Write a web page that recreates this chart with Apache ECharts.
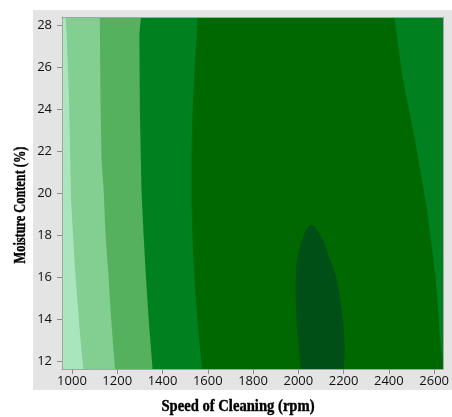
<!DOCTYPE html>
<html><head><meta charset="utf-8">
<script src="https://cdn.jsdelivr.net/npm/echarts@6/dist/echarts.min.js"></script>
<style>html,body{margin:0;padding:0;background:#fff}#c{width:452px;height:417px}</style>
</head><body><div id="c"></div>
<script>
// ---- data ----
const speedRange = [956, 2640];          // Speed of Cleaning (rpm)
const moistureRange = [11.65, 28.41];    // Moisture Content (%)
const speedTicks = [1000, 1200, 1400, 1600, 1800, 2000, 2200, 2400, 2600];
const moistureTicks = [12, 14, 16, 18, 20, 22, 24, 26, 28];

// contour boundaries, each listed from top (high moisture) to bottom
const contour1 = [[972, 28.41], [976, 27.8], [987, 24.5], [996, 19.7], [1013, 16.5], [1035, 13.4], [1050, 11.65]];
const contour2 = [[1123, 28.41], [1126, 24.5], [1131, 21.5], [1140, 20.2], [1148, 18.1], [1162, 16.0], [1172, 14.2], [1190, 11.65]];
const contour3 = [[1305, 28.41], [1298, 27.6], [1300, 24.0], [1302, 22.9], [1307, 20.2], [1316, 18.1], [1327, 16.0], [1339, 14.0], [1356, 11.65]];
const contour4 = [[1556, 28.41], [1545, 26.5], [1535, 24.5], [1528, 22.0], [1528, 19.5], [1536, 17.0], [1547, 14.9], [1562, 13.0], [1575, 11.65]];
const contourRight = [[2424, 28.41], [2460, 25.56], [2518, 22.41], [2569, 19.22], [2606, 16.03], [2628, 12.9], [2640, 11.85]];
const contourInner = [[2058, 18.51], [2072, 18.45], [2087, 18.2], [2102, 17.9], [2117, 17.6], [2135, 17.0], [2150, 16.6], [2167, 16.05],
  [2180, 15.3], [2192, 14.46], [2200, 13.6], [2204, 12.89], [2204, 12.2], [2201, 11.65],
  [2011, 11.65], [2000, 12.89], [1993, 13.8], [1989, 14.8], [1988, 15.6], [1991, 16.6], [2000, 17.2], [2014, 17.7], [2030, 18.2], [2045, 18.45]];

const levelColors = ['#a9e5bd', '#83ce91', '#55b15d', '#00801f', '#006800', '#004f17'];

// ---- build layers (painter's order) ----
const layers = [
  { kind: 'full', pts: [], color: levelColors[4] },
  { kind: 'left', pts: contour4, color: levelColors[3] },
  { kind: 'left', pts: contour3, color: levelColors[2] },
  { kind: 'left', pts: contour2, color: levelColors[1] },
  { kind: 'left', pts: contour1, color: levelColors[0] },
  { kind: 'right', pts: contourRight, color: levelColors[3] },
  { kind: 'closed', pts: contourInner, color: levelColors[5] }
];

function renderItem(params, api) {
  const L = layers[params.dataIndex];
  const x0 = speedRange[0], x1 = speedRange[1], y0 = moistureRange[0], y1 = moistureRange[1];
  let pts;
  if (L.kind === 'full') pts = [[x0, y1], [x1, y1], [x1, y0], [x0, y0]];
  else if (L.kind === 'left') pts = [[x0, y1]].concat(L.pts, [[x0, y0]]);
  else if (L.kind === 'right') pts = L.pts.concat([[x1, y1]]);
  else pts = L.pts;
  return {
    type: 'polygon',
    shape: { points: pts.map(p => api.coord(p)) },
    style: { fill: L.color, stroke: null }
  };
}

const tickFont = { color: '#111111', fontSize: 13, fontFamily: 'Open Sans, sans-serif', formatter: v => String(v) };
const lineStyle = { color: '#a4a4a4', width: 1 };

const chart = echarts.init(document.getElementById('c'), null, { renderer: 'canvas' });
chart.setOption({
  animation: false,
  backgroundColor: '#ffffff',
  grid: { left: 62, right: 6, top: 17, bottom: 48, containLabel: false },
  graphic: [
    { type: 'rect', z: -10, silent: true, shape: { x: 33, y: 10, width: 419, height: 380 }, style: { fill: '#e4e4e4' } },
    { type: 'text', z: 100, x: 238, y: 407, scaleX: 0.86,
      style: { text: 'Speed of Cleaning (rpm)', font: 'bold 17px "Liberation Serif", serif', fill: '#000', stroke: '#000', lineWidth: 0.4, align: 'center', verticalAlign: 'middle' } },
    { type: 'text', z: 100, x: 21, y: 205, rotation: Math.PI / 2, scaleX: 0.77,
      style: { text: 'Moisture Content (%)', font: 'bold 16px "Liberation Serif", serif', fill: '#000', stroke: '#000', lineWidth: 0.4, align: 'center', verticalAlign: 'middle' } }
  ],
  xAxis: [
    { type: 'value', position: 'bottom', min: speedRange[0], max: speedRange[1], z: 10,
      axisLine: { show: true, lineStyle: lineStyle },
      axisTick: { show: true, length: 5, customValues: speedTicks, lineStyle: { color: '#8c8c8c' } },
      axisLabel: { show: true, margin: 6, customValues: speedTicks, ...tickFont },
      splitLine: { show: false } },
    { type: 'value', position: 'top', min: speedRange[0], max: speedRange[1], z: 10,
      axisLine: { show: true, lineStyle: lineStyle }, axisTick: { show: false }, axisLabel: { show: false }, splitLine: { show: false } }
  ],
  yAxis: [
    { type: 'value', position: 'left', min: moistureRange[0], max: moistureRange[1], z: 10,
      axisLine: { show: true, lineStyle: lineStyle },
      axisTick: { show: true, length: 5, customValues: moistureTicks, lineStyle: { color: '#8c8c8c' } },
      axisLabel: { show: true, margin: 10, customValues: moistureTicks, ...tickFont },
      splitLine: { show: false } },
    { type: 'value', position: 'right', min: moistureRange[0], max: moistureRange[1], z: 10,
      axisLine: { show: true, lineStyle: lineStyle }, axisTick: { show: false }, axisLabel: { show: false }, splitLine: { show: false } }
  ],
  series: [{
    type: 'custom',
    xAxisIndex: 0, yAxisIndex: 0,
    renderItem: renderItem,
    data: layers.map(l => (l.pts.length ? l.pts[0] : [speedRange[0], moistureRange[0]])),
    silent: true
  }]
});
</script></body></html>
